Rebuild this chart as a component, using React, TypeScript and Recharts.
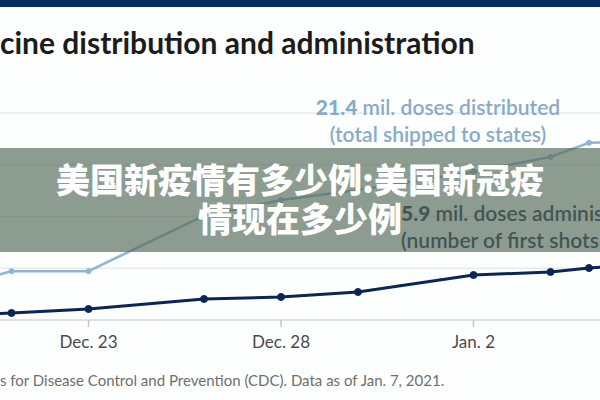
import React from 'react';
import { LineChart, Line, XAxis, YAxis, CartesianGrid } from 'recharts';

// day offsets from Dec. 20
const days = [0, 1, 3, 6, 8, 10, 13, 15, 16, 17];
const distributed = [4.6, 5.9, 5.9, 12.6, 14.5, 15.7, 17.9, 19.7, 21.4, 21.5];
const administered = [0.65, 0.85, 1.33, 2.54, 2.78, 3.38, 5.43, 5.8, 6.28, 6.6];
const tickDays = [3, 8, 13];
const tickLabels = ['Dec. 23', 'Dec. 28', 'Jan. 2'];
const gridValues = [0, 6.25, 12.5, 18.75, 25];

const data = days.map((d, i) => ({ day: d, distributed: distributed[i], administered: administered[i] }));

const sans = 'Lato, "Open Sans", sans-serif';

export default function App() {
  return (
    <div style={{ position: 'fixed', top: 0, left: 0, width: 600, height: 400, overflow: 'hidden', background: '#fdfefe', fontFamily: sans }}>
      <div style={{ position: 'absolute', top: 0, left: 0, width: 600, height: 7, background: '#062b60' }} />
      <div style={{ position: 'absolute', top: 24, left: 0, fontSize: 30, fontWeight: 700, color: '#1c1c1c', whiteSpace: 'nowrap' }}>
        cine distribution and administration
      </div>

      <div style={{ position: 'absolute', top: 0, left: -27.5 }}>
        <LineChart width={693} height={400} data={data} margin={{ top: 113, right: 0, left: 0, bottom: 0 }}>
          <CartesianGrid vertical={false} stroke="#e9eaea" strokeWidth={1.5} />
          <YAxis hide domain={[0, 25]} ticks={gridValues} />
          <XAxis
            dataKey="day"
            type="number"
            domain={[0, 18]}
            ticks={tickDays}
            tickFormatter={(v) => tickLabels[tickDays.indexOf(v)]}
            height={80}
            axisLine={{ stroke: '#dcdcdc', strokeWidth: 1.5 }}
            tickLine={{ stroke: '#c4c4c4', strokeWidth: 1.5 }}
            tickSize={7}
            tickMargin={9}
            tick={{ fill: '#4a4a4a', fontSize: 17, fontFamily: sans }}
          />
          <Line
            type="linear"
            dataKey="distributed"
            stroke="#8fb5d4"
            strokeWidth={2.5}
            dot={{ r: 2.5, fill: '#8fb5d4', stroke: '#8fb5d4', strokeWidth: 1 }}
            isAnimationActive={false}
          />
          <Line
            type="linear"
            dataKey="administered"
            stroke="#0b2556"
            strokeWidth={3}
            dot={{ r: 3.5, fill: '#0b2556', stroke: '#0b2556', strokeWidth: 1 }}
            isAnimationActive={false}
          />
        </LineChart>
      </div>

      <div style={{ position: 'absolute', top: 93, left: 288, width: 300, textAlign: 'center', fontSize: 21, fontWeight: 600, color: '#89abc8', lineHeight: '27px', whiteSpace: 'nowrap' }}>
        <div><b>21.4</b> mil. doses distributed</div>
        <div>(total shipped to states)</div>
      </div>
      <div style={{ position: 'absolute', top: 199, left: 401, fontSize: 21, fontWeight: 600, color: '#1b2f52', lineHeight: '27px', whiteSpace: 'nowrap' }}>
        <div><b>5.9</b> mil. doses administered</div>
        <div>(number of first shots given)</div>
      </div>

      <div style={{ position: 'absolute', top: 371, left: 0, fontSize: 15, color: '#6f6f6f', whiteSpace: 'nowrap' }}>
        s for Disease Control and Prevention (CDC). Data as of Jan. 7, 2021.
      </div>

      <div style={{ position: 'absolute', top: 148, left: 0, width: 600, height: 104, background: 'rgba(84,105,87,0.66)' }} />
      <div style={{ position: 'absolute', top: 159, left: 0, width: 600, textAlign: 'center', fontFamily: '"Noto Sans CJK SC", sans-serif', fontWeight: 900, fontSize: 34, lineHeight: '39px', color: '#ffffff' }}>
        <div>美国新疫情有多少例:美国新冠疫</div>
        <div>情现在多少例</div>
      </div>
    </div>
  );
}
